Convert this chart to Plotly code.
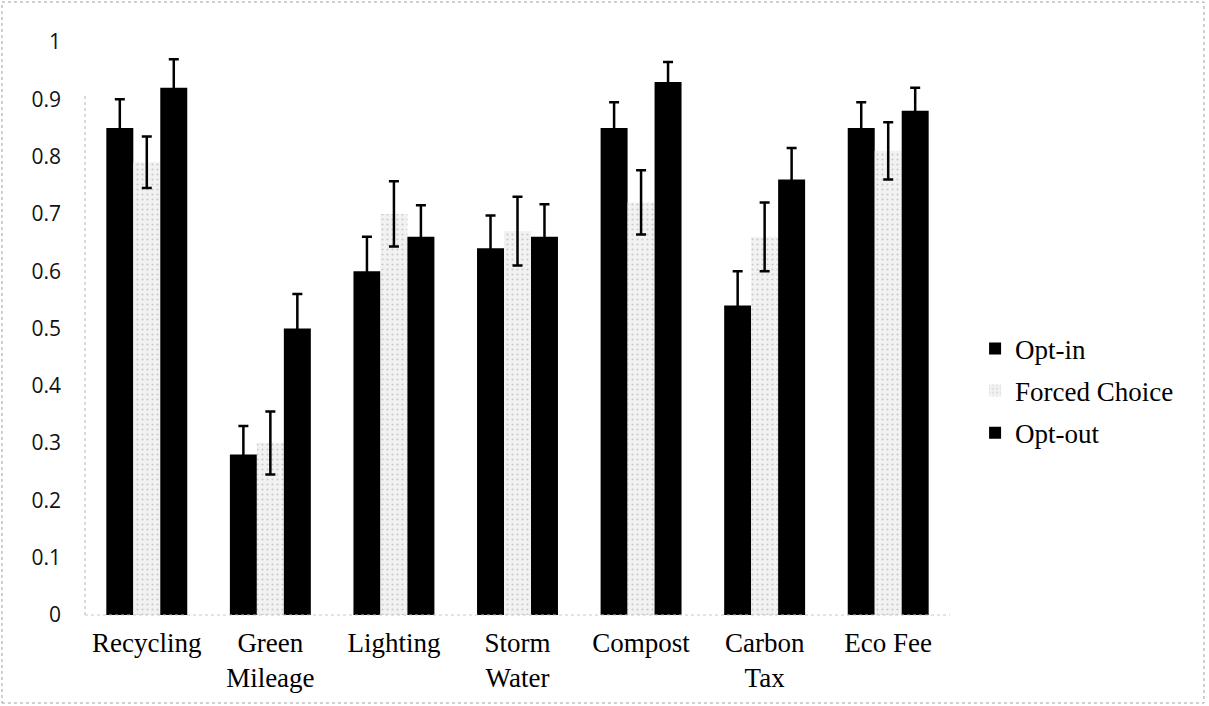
import plotly.graph_objects as go

categories = ["Recycling", "Green<br>Mileage", "Lighting", "Storm<br>Water", "Compost", "Carbon<br>Tax", "Eco Fee"]
series_names = ["Opt-in", "Forced Choice", "Opt-out"]
opt_in = [0.85, 0.28, 0.60, 0.64, 0.85, 0.54, 0.85]
opt_in_err = [0.05, 0.05, 0.06, 0.057, 0.045, 0.06, 0.045]
forced = [0.79, 0.30, 0.70, 0.67, 0.72, 0.66, 0.81]
forced_err = [0.045, 0.055, 0.057, 0.06, 0.056, 0.06, 0.05]
opt_out = [0.92, 0.50, 0.66, 0.66, 0.93, 0.76, 0.88]
opt_out_err = [0.05, 0.06, 0.055, 0.057, 0.035, 0.055, 0.04]
y_ticks = [0, 0.1, 0.2, 0.3, 0.4, 0.5, 0.6, 0.7, 0.8, 0.9, 1]
y_tick_text = ["0", "0.1", "0.2", "0.3", "0.4", "0.5", "0.6", "0.7", "0.8", "0.9", "1"]

serif = "Liberation Serif, Times New Roman, serif"
err_style = dict(type="data", visible=True, color="black", thickness=2.5, width=5)

fig = go.Figure()
fig.add_trace(go.Bar(name=series_names[0], x=categories, y=opt_in,
                     marker=dict(color="black", line=dict(width=0)),
                     error_y=dict(array=opt_in_err, **err_style), legendgroup="a"))
fig.add_trace(go.Bar(name=series_names[1], x=categories, y=forced,
                     marker=dict(color="#efefef", line=dict(width=0),
                                 pattern=dict(shape=".", fgcolor="#a0a0a0", bgcolor="#f2f2f2",
                                              size=5, solidity=0.15)),
                     error_y=dict(array=forced_err, **err_style), legendgroup="b"))
fig.add_trace(go.Bar(name=series_names[2], x=categories, y=opt_out,
                     marker=dict(color="black", line=dict(width=0)),
                     error_y=dict(array=opt_out_err, **err_style), legendgroup="c"))

fig.update_layout(
    width=1209, height=706,
    margin=dict(l=85, r=259, t=42, b=91),
    paper_bgcolor="white", plot_bgcolor="white",
    barmode="group", bargap=0.345, bargroupgap=0,
    showlegend=True,
    legend=dict(x=1.029, xanchor="left", y=0.391, yanchor="middle",
                font=dict(family=serif, size=27, color="black"),
                tracegroupgap=4, traceorder="grouped", bgcolor="rgba(0,0,0,0)"),
    xaxis=dict(tickfont=dict(family=serif, size=27, color="black"),
               showline=False, showgrid=False, ticks="", ticklabelstandoff=9),
    yaxis=dict(range=[0, 1], tickvals=y_ticks, ticktext=y_tick_text,
               tickfont=dict(family="Open Sans, sans-serif", size=21, color="#111"),
               showgrid=False, zeroline=False, showline=False, ticks="",
               ticklabelstandoff=23),
)

# dotted axis lines
fig.add_shape(type="line", xref="paper", yref="paper", x0=0, x1=0, y0=0, y1=0.91,
              line=dict(color="#b5b5b5", width=1, dash="dot"))
fig.add_shape(type="line", xref="paper", yref="paper", x0=0, x1=1, y0=0, y1=0,
              line=dict(color="#c8c8c8", width=1, dash="dot"))
# dotted frame around the chart
fig.add_shape(type="rect", xref="paper", yref="paper",
              x0=-0.0960, x1=1.2936, y0=-0.1536, y1=1.0698,
              line=dict(color="#a0a0a0", width=1, dash="dot"))

fig.write_html("out.html", config={"displayModeBar": False},
               post_script="document.body.style.margin='0px';")
